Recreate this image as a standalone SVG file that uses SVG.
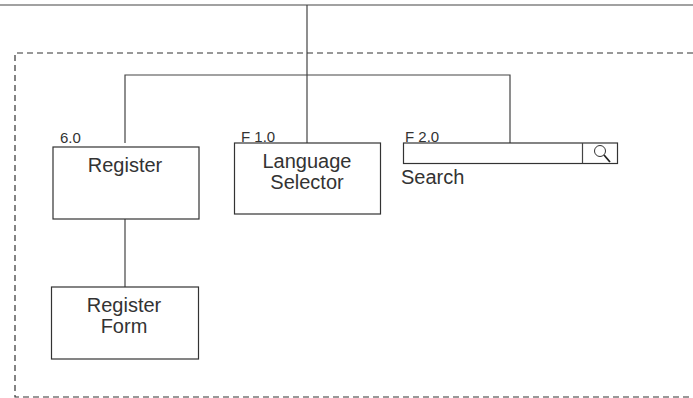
<svg xmlns="http://www.w3.org/2000/svg" width="693" height="398" viewBox="0 0 693 398">
<style>
.b{fill:#fff;stroke:#333;stroke-width:1.2}
.c{fill:none;stroke:#444;stroke-width:1.2}
.d{fill:none;stroke:#333;stroke-width:1.2;stroke-dasharray:6 4}
text{font-family:"Liberation Sans",Arial,sans-serif;fill:#333;font-size:20px}
.s{font-size:15px}
.m{text-anchor:middle}
</style>
<rect width="693" height="398" fill="#fff"/>
<g id="connectors">
<path class="c" d="M0 5H693"/>
<path class="c" d="M307 5V143"/>
<path class="c" d="M125 143V75H510V143"/>
<path class="c" d="M125 219V287"/>
</g>
<g id="frame"><path class="d" d="M693 53H15V397H693"/></g>
<g id="register"><text class="s" x="60" y="143">6.0</text><rect class="b" x="53" y="147" width="146" height="72"/><text class="m" x="125" y="172">Register</text></g>
<g id="language-selector"><text class="s" x="241" y="142">F 1.0</text><rect class="b" x="234.500" y="143" width="146" height="71"/><text class="m" x="307" y="168">Language</text><text class="m" x="307" y="189">Selector</text></g>
<g id="search"><text class="s" x="405" y="142">F 2.0</text><rect class="b" x="403.500" y="143" width="214" height="20.500"/><path class="c" d="M582.500 143V163.500"/><circle cx="600" cy="151" r="5.500" fill="none" stroke="#333" stroke-width="1"/><path d="M604 155L610 162" stroke="#222" stroke-width="1.800"/><text x="401" y="184">Search</text></g>
<g id="register-form"><rect class="b" x="51.500" y="287" width="147" height="72"/><text class="m" x="124" y="312">Register</text><text class="m" x="124" y="333">Form</text></g>
</svg>
